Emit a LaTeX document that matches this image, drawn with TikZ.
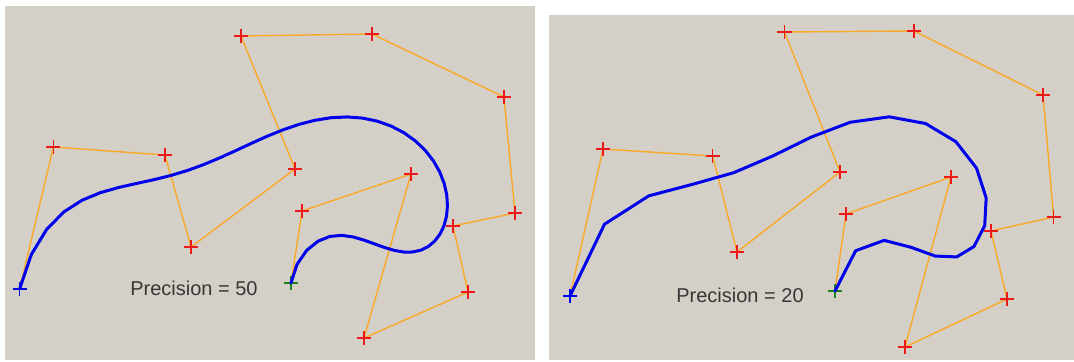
\documentclass[tikz,border=0pt]{standalone}
\usepackage{fontspec}
\setmainfont{Liberation Sans}
\definecolor{panelgray}{RGB}{212,208,200}
\definecolor{polyorange}{RGB}{250,168,40}
\definecolor{markred}{RGB}{238,24,24}
\definecolor{curveblue}{RGB}{0,0,235}
\definecolor{markgreen}{RGB}{30,130,30}
\definecolor{labelgray}{RGB}{55,55,55}
\usetikzlibrary{shapes.misc}

\def\binoms{{1,14,91,364,1001,2002,3003,3432,3003,2002,1001,364,91,14,1}}

% control polygon + Bezier curve of one panel
% #1 prefix, #2 x list, #3 y list, #4 number of segments
\newcommand{\bezpanel}[4]{%
  \foreach \k in {0,...,14} {
    \pgfmathsetmacro\cx{#2[\k]}
    \pgfmathsetmacro\cy{#3[\k]}
    \coordinate (#1\k) at (\cx,\cy);
  }
  \coordinate (#1c0) at (#10);
  \pgfmathtruncatemacro\lastpt{#4-1}
  \foreach \i in {1,...,\lastpt} {
    \pgfmathsetmacro\tpar{\i/#4}
    \gdef\sx{0}\gdef\sy{0}
    \foreach \k in {0,...,14} {
      % Bernstein weight, multiplied step by step
      \pgfmathsetmacro\tmp{\binoms[\k]}\xdef\bw{\tmp}
      \foreach \j in {1,...,14} {
        \pgfmathsetmacro\tmp{\bw*(\j>\k ? (1-\tpar) : \tpar)}\xdef\bw{\tmp}
      }
      \pgfmathsetmacro\cx{#2[\k]}
      \pgfmathsetmacro\cy{#3[\k]}
      \pgfmathsetmacro\nx{\sx+\bw*\cx}
      \pgfmathsetmacro\ny{\sy+\bw*\cy}
      \xdef\sx{\nx}\xdef\sy{\ny}
    }
    \coordinate (#1c\i) at (\sx,\sy);
  }
  \coordinate (#1c#4) at (#114);
  \draw[poly] (#10) \foreach \k in {1,...,14} { -- (#1\k) };
  \foreach \k in {1,...,13}
    \node[ctrlmark, draw=markred] (#1m\k) at (#1\k) {};
  \node[ctrlmark, draw=curveblue] (#1m0) at (#10) {};
  \node[ctrlmark, draw=markgreen] (#1m14) at (#114) {};
  \draw[curve] (#1c0) \foreach \i in {1,...,#4} { -- (#1c\i) };
}

\begin{document}
\begin{tikzpicture}[x=0.5pt, y=-0.5pt,
  panel/.style={fill=panelgray, draw=none},
  poly/.style={draw=polyorange, line width=0.7pt},
  ctrlmark/.style={cross out, rotate=45, minimum size=4.3pt, inner sep=0pt, line width=0.7pt},
  curve/.style={draw=curveblue, line width=1.5pt, line join=round, line cap=round},
  prectext/.style={text=labelgray, font=\fontsize{10}{12}\selectfont, inner sep=0pt}]

\useasboundingbox (0,0) rectangle (1074,361);
\fill[white] (0,0) rectangle (1074,361);

% left panel: precision 50
\fill[panel] (5,6) rectangle (535,360);
\bezpanel{a}{{19.6,53.4,165,191,295,241,372,504,515,453,468,364,411,302,291}}%
  {{289,147,155,247,169,36,34,97,213,226,292,338,174,211,283}}{50}
\node[prectext] (aprec) at (194,288) {Precision = 50};

% right panel: precision 20
\fill[panel] (549,15) rectangle (1074,360);
\bezpanel{b}{{570,603,712.7,737,840,784.5,914,1043,1053.6,991,1007,905,951,846,835}}%
  {{296,149,156,252,172,32,31,95,217,231,299,347,177,214,291}}{20}
\node[prectext] (bprec) at (740,295) {Precision = 20};

\end{tikzpicture}
\end{document}
